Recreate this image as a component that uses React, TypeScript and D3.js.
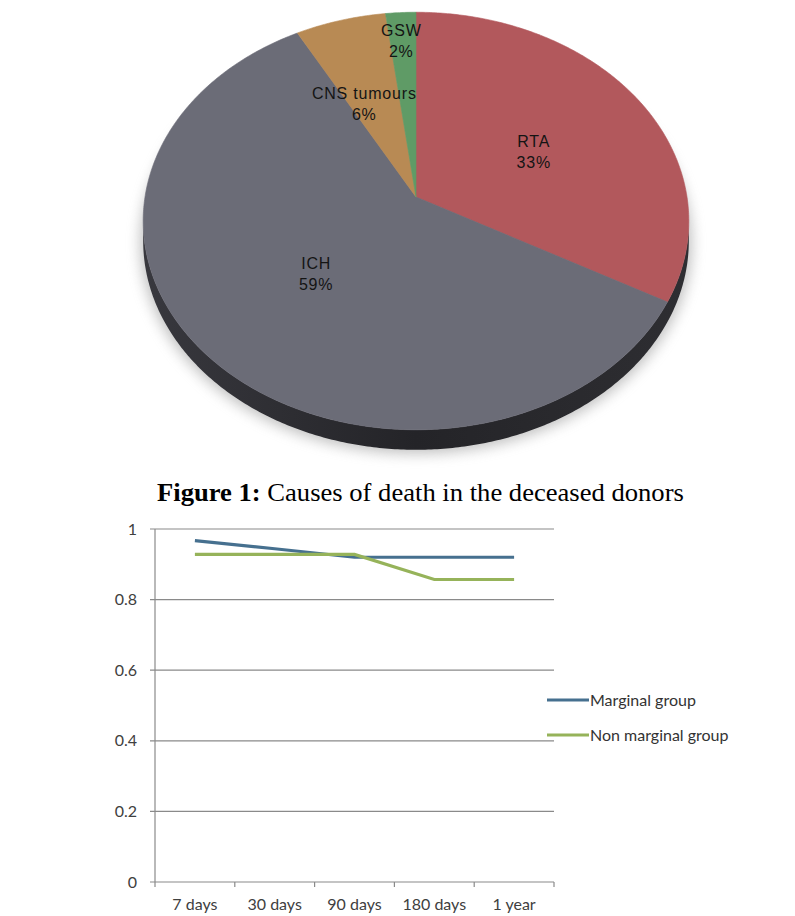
import { useRef, useEffect } from 'react';
import * as d3 from 'd3';

// pie: causes of death
const causes = ['RTA', 'ICH', 'CNS tumours', 'GSW'];
const causeShares = [33, 59, 6, 2];

// line chart: survival
const periods = ['7 days', '30 days', '90 days', '180 days', '1 year'];
const marginal = [0.967, 0.944, 0.92, 0.92, 0.92];
const nonMarginal = [0.928, 0.928, 0.928, 0.857, 0.857];
const yTicks = [0, 0.2, 0.4, 0.6, 0.8, 1];
const seriesNames = ['Marginal group', 'Non marginal group'];

const SLICE_COLORS: Record<string, string> = {
  RTA: '#b2585c',
  ICH: '#6b6c77',
  'CNS tumours': '#b88a54',
  GSW: '#5f9b66',
};
// label placement: radius fraction, nudge x, nudge y
const LABEL_POS: Record<string, [number, number, number]> = {
  RTA: [0.52, 0, 7],
  ICH: [0.5, 0, 0],
  'CNS tumours': [0.5, -12, -1],
  GSW: [0.82, -2, -3],
};
const LINE_COLORS = ['#46708f', '#96b35a'];

export default function App() {
  const ref = useRef<SVGSVGElement>(null);

  useEffect(() => {
    document.body.style.margin = '0';
    if (!ref.current) return;
    const svg = d3.select(ref.current);
    svg.selectAll('*').remove();

    const defs = svg.append('defs');
    defs.append('filter').attr('id', 'soft').attr('x', '-20%').attr('y', '-20%')
      .attr('width', '140%').attr('height', '140%')
      .append('feGaussianBlur').attr('stdDeviation', 7);
    const sideGrad = defs.append('linearGradient').attr('id', 'side')
      .attr('x1', 0).attr('x2', 1).attr('y1', 0).attr('y2', 0);
    sideGrad.append('stop').attr('offset', '0%').attr('stop-color', '#38383e');
    sideGrad.append('stop').attr('offset', '50%').attr('stop-color', '#242428');
    sideGrad.append('stop').attr('offset', '100%').attr('stop-color', '#2e2e32');

    // ---- tilted pie ----
    const cx = 416, cy = 197, A = 271, B = 206, k = 0.115, depth = 20;
    const proj = (a: number, f = 1): [number, number] => {
      const u = f * Math.sin(a), v = f * Math.cos(a);
      const w = 1 + k * v;
      return [cx + (A * u) / w, cy - (B * v) / w];
    };
    const arcPts = (a0: number, a1: number, f = 1, dy = 0) => {
      const n = Math.max(2, Math.ceil(Math.abs(a1 - a0) / 0.01));
      return d3.range(n + 1).map((i) => {
        const p = proj(a0 + ((a1 - a0) * i) / n, f);
        return [p[0], p[1] + dy] as [number, number];
      });
    };
    const line = d3.line();
    const pieG = svg.append('g');

    // soft shadow
    pieG.append('path')
      .attr('d', line(arcPts(0, Math.PI * 2, 1.01, depth + 1)) + 'Z')
      .attr('fill', '#8a8a8a').attr('opacity', 0.55).attr('filter', 'url(#soft)');

    // side band
    const aR = Math.acos(-k), aL = Math.PI * 2 - Math.acos(-k);
    const sidePts = arcPts(aR, aL).concat(arcPts(aL, aR, 1, depth));
    pieG.append('path').attr('d', line(sidePts) + 'Z').attr('fill', 'url(#side)');

    const pie = d3.pie<number>().sort(null).value((d) => d);
    const arcs = pie(causeShares);
    arcs.forEach((s, i) => {
      const pts: [number, number][] = [[cx, cy], ...arcPts(s.startAngle, s.endAngle)];
      pieG.append('path').attr('d', line(pts) + 'Z')
        .attr('fill', SLICE_COLORS[causes[i]])
        .attr('stroke', SLICE_COLORS[causes[i]]).attr('stroke-width', 0.6);
    });

    arcs.forEach((s, i) => {
      const name = causes[i];
      const [f, nx, ny] = LABEL_POS[name];
      const [px, py] = proj((s.startAngle + s.endAngle) / 2, f);
      const lx = px + nx, ly = py + ny;
      const t = pieG.append('text')
        .attr('text-anchor', 'middle')
        .style('font-family', '"Liberation Sans", Arial, sans-serif')
        .style('font-size', '16px')
        .style('letter-spacing', '0.8px')
        .style('fill', '#141414');
      t.append('tspan').attr('x', lx).attr('y', ly - 4).text(name);
      t.append('tspan').attr('x', lx).attr('y', ly + 17).text(`${causeShares[i]}%`);
    });

    // ---- caption ----
    const cap = svg.append('text')
      .attr('transform', 'translate(157,501)')
      .style('font-family', '"Liberation Serif", "Times New Roman", serif')
      .style('font-size', '26px')
      .style('fill', '#000');
    cap.append('tspan').style('font-weight', 'bold').text('Figure 1:');
    cap.append('tspan').text(' Causes of death in the deceased donors');
    const capW = (cap.node() as SVGTextElement).getComputedTextLength();
    cap.attr('transform', `translate(157,501) scale(${527 / capW},1)`);

    // ---- line chart ----
    const x0 = 155, x1 = 554;
    const x = d3.scalePoint<string>().domain(periods).range([x0, x1]).padding(0.5);
    const y = d3.scaleLinear().domain([0, 1]).range([882, 529]);
    const step = x.step();
    const axisCol = '#8a8a8a';
    const g = svg.append('g');
    const font = 'Lato, "Open Sans", sans-serif';

    yTicks.forEach((t) => {
      g.append('line').attr('x1', x0 - 5).attr('x2', x1)
        .attr('y1', y(t)).attr('y2', y(t))
        .attr('stroke', axisCol).attr('stroke-width', 1.2);
      g.append('text').attr('x', 137).attr('y', y(t)).attr('dy', '0.35em')
        .attr('text-anchor', 'end')
        .style('font-family', font).style('font-size', '16px').style('fill', '#404040')
        .text(String(t));
    });
    g.append('line').attr('x1', x0).attr('x2', x0).attr('y1', y(1)).attr('y2', y(0))
      .attr('stroke', axisCol).attr('stroke-width', 1.2);
    d3.range(periods.length + 1).forEach((i) => {
      g.append('line').attr('x1', x0 + i * step).attr('x2', x0 + i * step)
        .attr('y1', y(0)).attr('y2', y(0) + 5)
        .attr('stroke', axisCol).attr('stroke-width', 1.2);
    });
    periods.forEach((p) => {
      g.append('text').attr('x', x(p)!).attr('y', 910).attr('text-anchor', 'middle')
        .style('font-family', font).style('font-size', '16px').style('fill', '#404040')
        .text(p);
    });

    const path = d3.line<number>().x((_, i) => x(periods[i])!).y((d) => y(d));
    [marginal, nonMarginal].forEach((s, i) => {
      g.append('path').attr('d', path(s)!).attr('fill', 'none')
        .attr('stroke', LINE_COLORS[i]).attr('stroke-width', 3.2);
    });

    // legend
    seriesNames.forEach((n, i) => {
      const ly = 700 + i * 35;
      g.append('line').attr('x1', 547).attr('x2', 589).attr('y1', ly).attr('y2', ly)
        .attr('stroke', LINE_COLORS[i]).attr('stroke-width', 3.2);
      g.append('text').attr('x', 590).attr('y', ly).attr('dy', '0.35em')
        .style('font-family', font).style('font-size', '16px').style('fill', '#333')
        .text(n);
    });
  }, []);

  return (
    <svg ref={ref} width={795} height={916}
      style={{ display: 'block', background: '#fff' }} />
  );
}
